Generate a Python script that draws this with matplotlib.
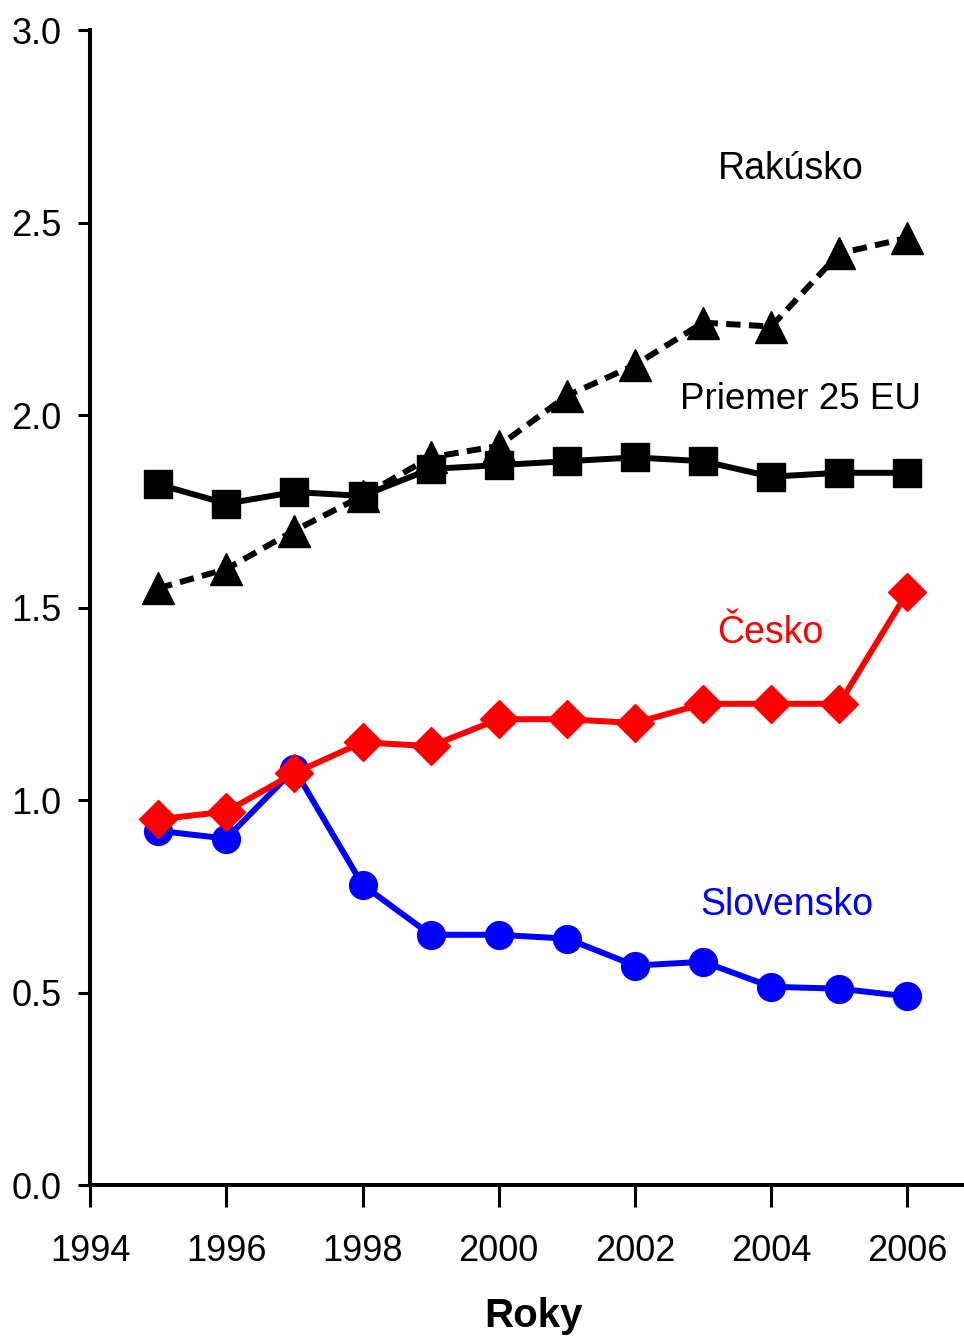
import matplotlib
matplotlib.use("Agg")
import matplotlib.pyplot as plt

# ── data ──────────────────────────────────────────────────────
years = [1995, 1996, 1997, 1998, 1999, 2000, 2001, 2002, 2003, 2004, 2005, 2006]

rakusko   = [1.55, 1.60, 1.70, 1.79, 1.89, 1.92, 2.05, 2.13, 2.24, 2.23, 2.42, 2.46]
priemer   = [1.82, 1.77, 1.80, 1.79, 1.86, 1.87, 1.88, 1.89, 1.88, 1.84, 1.85, 1.85]
cesko     = [0.95, 0.97, 1.07, 1.15, 1.14, 1.21, 1.21, 1.20, 1.25, 1.25, 1.25, 1.54]
slovensko = [0.92, 0.90, 1.08, 0.78, 0.65, 0.65, 0.64, 0.57, 0.58, 0.515, 0.51, 0.49]

y_ticks = [0.0, 0.5, 1.0, 1.5, 2.0, 2.5, 3.0]
x_ticks = [1994, 1996, 1998, 2000, 2002, 2004, 2006]

font = ["Liberation Sans", "DejaVu Sans"]

fig = plt.figure(figsize=(9.64, 13.36), dpi=100)
ax = fig.add_axes([0.0934, 0.113, 0.9066, 0.8645])

lw = 4.3
ax.plot(years, priemer, color="black", lw=lw, marker="s", ms=20, zorder=3)
ax.plot(years, rakusko, color="black", lw=lw, marker="^", ms=23,
        dashes=(2.4, 1.4), zorder=4)
ax.plot(years, slovensko, color="#0000ff", lw=lw, marker="o", ms=20, zorder=5)
ax.plot(years, cesko, color="#ff0000", lw=lw, marker="D", ms=19, zorder=6)

# series labels
ax.text(2004.28, 2.64, "Rakúsko", color="black", fontsize=27,
        family=font, ha="center", va="center")
ax.text(2004.43, 2.04, "Priemer 25 EU", color="black", fontsize=26.5,
        family=font, ha="center", va="center")
ax.text(2003.99, 1.434, "Česko", color="#ff0000", fontsize=27,
        family=font, ha="center", va="center")
ax.text(2004.23, 0.727, "Slovensko", color="#0000ff", fontsize=27,
        family=font, ha="center", va="center")

ax.set_xlim(1994, 2006.83)
ax.set_ylim(0, 3.0)
ax.set_xticks(x_ticks)
ax.set_yticks(y_ticks)
ax.set_xticklabels([str(t) for t in x_ticks], family=font, fontsize=26)
ax.set_yticklabels([f"{t:.1f}" for t in y_ticks], family=font, fontsize=26)

for side in ("top", "right"):
    ax.spines[side].set_visible(False)
for side in ("left", "bottom"):
    ax.spines[side].set_linewidth(2.9)

ax.tick_params(axis="x", direction="out", length=16, width=2.2, pad=19)
ax.tick_params(axis="y", direction="out", length=8.5, width=2.2, pad=12)

ax.set_xlabel("Roky", fontsize=29, fontweight="bold", family=font)
ax.xaxis.set_label_coords(0.507, -0.097)

fig.savefig("out.png", dpi=100)
